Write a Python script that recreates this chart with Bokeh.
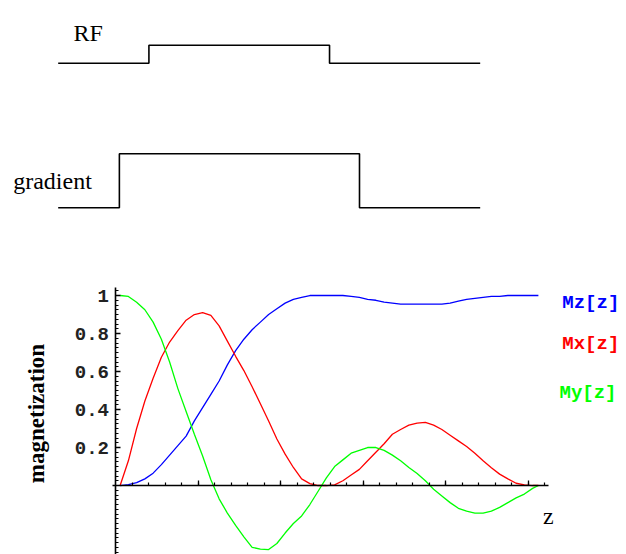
import numpy as np
from bokeh.plotting import figure
from bokeh.layouts import column
from bokeh.models import FixedTicker, Range1d, CustomJSTickFormatter
from bokeh.core.properties import value
from bokeh.embed import file_html
from bokeh.resources import INLINE

# ---------------- data ----------------
z = [0.05, 0.15, 0.25, 0.35, 0.45, 0.55, 0.65, 0.75, 0.85, 0.95,
     1.05, 1.15, 1.25, 1.35, 1.45, 1.55, 1.65, 1.75, 1.85, 1.95,
     2.05, 2.15, 2.25, 2.35, 2.45, 2.55, 2.65, 2.75, 2.85, 2.95,
     3.05, 3.15, 3.25, 3.35, 3.45, 3.55, 3.65, 3.75, 3.85, 3.95,
     4.05, 4.15, 4.25, 4.35, 4.45, 4.55, 4.65, 4.75, 4.85, 4.95,
     5.05, 5.12]
mz = [0.0, 0.005, 0.015, 0.035, 0.065, 0.11, 0.16, 0.21, 0.26, 0.34,
      0.41, 0.48, 0.55, 0.635, 0.71, 0.77, 0.82, 0.86, 0.90, 0.93,
      0.96, 0.98, 0.99, 1.0, 1.0, 1.0, 1.0, 1.0, 0.995, 0.99,
      0.98, 0.975, 0.965, 0.96, 0.955, 0.955, 0.955, 0.955, 0.955, 0.955,
      0.96, 0.97, 0.98, 0.985, 0.99, 0.995, 0.995, 1.0, 1.0, 1.0,
      1.0, 1.0]
mx = [0.0, 0.13, 0.30, 0.445, 0.565, 0.675, 0.755, 0.815, 0.87, 0.90,
      0.91, 0.895, 0.84, 0.76, 0.68, 0.605, 0.52, 0.43, 0.34, 0.245,
      0.165, 0.095, 0.035, 0.01, 0.0, 0.0, 0.003, 0.025, 0.055, 0.085,
      0.13, 0.175, 0.22, 0.27, 0.295, 0.318, 0.328, 0.332, 0.318, 0.295,
      0.265, 0.235, 0.205, 0.17, 0.13, 0.093, 0.06, 0.035, 0.012, 0.003,
      0.0, 0.0]
my = [1.0, 0.995, 0.965, 0.925, 0.86, 0.77, 0.65, 0.51, 0.39, 0.27,
      0.155, 0.03, -0.07, -0.145, -0.21, -0.27, -0.325, -0.335, -0.337, -0.305,
      -0.25, -0.2, -0.16, -0.1, -0.03, 0.04, 0.1, 0.135, 0.17, 0.185,
      0.2, 0.2, 0.185, 0.16, 0.13, 0.095, 0.063, 0.025, -0.02, -0.055,
      -0.09, -0.12, -0.135, -0.145, -0.145, -0.135, -0.115, -0.09, -0.065, -0.045,
      -0.015, 0.0]
curve_labels = ["Mz[z]", "Mx[z]", "My[z]"]
curve_colors = ["#0000ff", "#ff0000", "#00ff00"]

y_ticks = [0.2, 0.4, 0.6, 0.8, 1.0]
y_tick_labels = ["0.2", "0.4", "0.6", "0.8", "1"]
x_ticks = [1, 2, 3, 4, 5]

# pulse sequence (time units)
t_start, t_end = 0.0, 10.0
rf_on, rf_off, rf_amp = 2.15, 6.43, 1.0
grad_on, grad_off, grad_amp = 1.45, 7.14, 3.0
track_names = ["RF", "gradient"]

# ---------------- top: pulse diagram ----------------
top = figure(width=626, height=240, x_range=Range1d(-1.367, 13.467),
             y_range=Range1d(-9.85, 3.483), x_axis_type=None, y_axis_type=None,
             output_backend="svg", toolbar_location=None, min_border=0)
top.grid.visible = False
top.outline_line_color = None

rf_base = 0.0
grad_base = -8.03

def pulse(on, off, amp, base):
    xs = [t_start, on, on, off, off, t_end]
    ys = [base, base, base + amp, base + amp, base, base]
    return xs, ys

xs, ys = pulse(rf_on, rf_off, rf_amp, rf_base)
top.line(xs, ys, line_color="black", line_width=1.6)
xs, ys = pulse(grad_on, grad_off, grad_amp, grad_base)
top.line(xs, ys, line_color="black", line_width=1.6)

top.text(x=[0.363, -1.066], y=[1.7, -6.52], text=track_names,
         text_font=value("Liberation Serif"), text_font_size="24px",
         text_align="left", text_baseline="alphabetic", text_color="black")

# ---------------- bottom: magnetization plot ----------------
bot = figure(width=626, height=314, x_range=Range1d(-1.4, 6.188),
             y_range=Range1d(-0.363, 1.2895),
             output_backend="svg", toolbar_location=None, min_border=0)
bot.grid.visible = False
bot.outline_line_color = None

for ys_, c in zip([mz, mx, my], curve_colors):
    bot.line(z, ys_, line_color=c, line_width=1.3)

bot.xaxis.fixed_location = 0
bot.yaxis.fixed_location = 0
bot.xaxis.bounds = (-0.045, 5.24)
bot.yaxis.bounds = (-0.37, 1.042)

bot.xaxis.ticker = FixedTicker(ticks=x_ticks,
                               minor_ticks=[round(v, 2) for v in np.arange(0.2, 5.21, 0.2)])
bot.yaxis.ticker = FixedTicker(ticks=y_ticks,
                               minor_ticks=[round(v, 3) for v in np.arange(-0.35, 1.03, 0.025)])
bot.xaxis.formatter = CustomJSTickFormatter(code="return '';")
bot.yaxis.formatter = CustomJSTickFormatter(
    args=dict(yt=y_ticks, yl=y_tick_labels),
    code="const i = yt.findIndex(t => Math.abs(t - tick) < 1e-6); return i >= 0 ? yl[i] : '';")

for ax in (bot.xaxis[0], bot.yaxis[0]):
    ax.axis_line_color = "black"
    ax.axis_line_width = 1.6
    ax.major_tick_in = 5
    ax.major_tick_out = 0
    ax.minor_tick_in = 3
    ax.minor_tick_out = 0
    ax.major_tick_line_width = 1.3
    ax.minor_tick_line_width = 1.2
    ax.major_tick_line_color = "black"
    ax.minor_tick_line_color = "black"

bot.yaxis.major_label_text_font = "Liberation Mono"
bot.yaxis.major_label_text_font_style = "bold"
bot.yaxis.major_label_text_font_size = "19px"
bot.yaxis.major_label_text_color = "#222222"
bot.yaxis.major_label_standoff = 7

# curve name labels on the right
bot.text(x=[5.41, 5.41, 5.376], y=[0.963, 0.747, 0.489], text=curve_labels,
         text_color=curve_colors, text_font=value("Liberation Mono"),
         text_font_style="bold", text_font_size="19px",
         text_align="left", text_baseline="middle")

# axis titles
bot.text(x=[-0.964], y=[0.379], text=["magnetization"], angle=np.pi / 2,
         text_font=value("Liberation Serif"), text_font_style="bold",
         text_font_size="23px", text_align="center", text_baseline="middle",
         text_color="black")
bot.text(x=[5.24], y=[-0.158], text=["z"],
         text_font=value("Liberation Serif"), text_font_size="24px",
         text_align="center", text_baseline="middle", text_color="black")

layout = column(top, bot)
open("out.html", "w").write(file_html(layout, INLINE))
